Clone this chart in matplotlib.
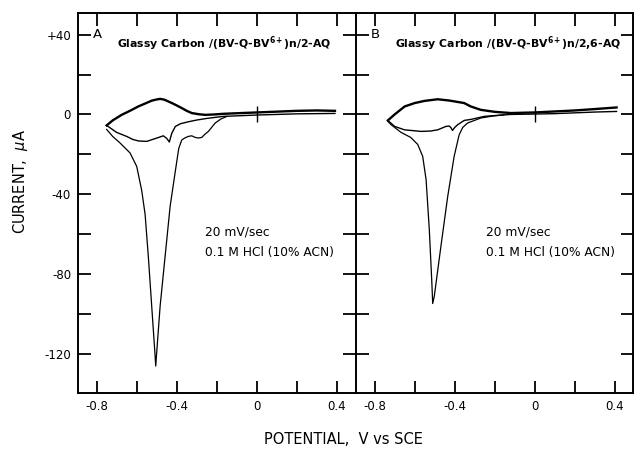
import numpy as np
import matplotlib.pyplot as plt

plt.rcParams['font.family'] = ['DejaVu Sans']
plt.rcParams['mathtext.fontset'] = 'dejavusans'

# --- panel A: Glassy Carbon/(BV-Q-BV6+)n/2-AQ ---
# steady cycle, anodic branch (left vertex -> right vertex)
a_up_v = [-0.75, -0.72, -0.675, -0.63, -0.592, -0.55, -0.525, -0.50, -0.483, -0.462, -0.442,
          -0.42, -0.40, -0.375, -0.35, -0.325, -0.29, -0.258, -0.21, -0.17, -0.1, 0.0, 0.1, 0.2, 0.3, 0.39]
a_up_i = [-5.5, -3.0, -0.2, 2.0, 4.0, 5.8, 6.9, 7.5, 7.8, 7.4, 6.5,
          5.5, 4.5, 3.2, 1.8, 0.7, 0.1, -0.2, 0.0, 0.3, 0.6, 1.0, 1.4, 1.8, 2.0, 1.8]
# steady cycle, cathodic return (right vertex -> left vertex)
a_dn_v = [0.39, 0.3, 0.2, 0.1, 0.0, -0.1, -0.17, -0.25, -0.30, -0.343, -0.38, -0.407, -0.425,
          -0.437, -0.45, -0.467, -0.49, -0.52, -0.55, -0.59, -0.62, -0.65, -0.70, -0.75]
a_dn_i = [0.5, 0.4, 0.3, 0.0, -0.3, -0.7, -1.0, -2.0, -2.8, -3.7, -4.6, -6.0, -9.5,
          -13.8, -12.0, -10.7, -11.5, -12.5, -13.5, -13.3, -12.5, -11.0, -9.0, -5.5]
# first scan with the big cathodic peak
a_first_v = [-0.15, -0.18, -0.208, -0.242, -0.258, -0.275, -0.292, -0.308, -0.325, -0.342, -0.36,
             -0.375, -0.39, -0.408, -0.433, -0.458, -0.483, -0.505, -0.51, -0.525, -0.542, -0.558,
             -0.575, -0.60, -0.633, -0.683, -0.72, -0.75]
a_first_i = [-1.0, -2.3, -4.3, -8.5, -9.8, -11.5, -11.8, -11.5, -10.7, -11.0, -11.8,
             -12.8, -17.0, -29.0, -46.0, -71.0, -96.0, -126.0, -118.0, -96.0, -71.0, -50.0,
             -38.0, -26.0, -19.3, -14.3, -11.0, -7.5]

# --- panel B: Glassy Carbon/(BV-Q-BV6+)n/2,6-AQ ---
b_up_v = [-0.734, -0.70, -0.65, -0.60, -0.55, -0.485, -0.43, -0.40, -0.353, -0.32, -0.27,
          -0.2, -0.12, 0.0, 0.1, 0.2, 0.3, 0.408]
b_up_i = [-3.0, 0.0, 4.0, 5.7, 6.8, 7.6, 7.0, 6.5, 5.7, 4.0, 2.3,
          1.3, 0.7, 1.0, 1.5, 2.0, 2.7, 3.5]
b_dn_v = [0.408, 0.3, 0.2, 0.1, 0.0, -0.12, -0.22, -0.254, -0.32, -0.353, -0.386, -0.40,
          -0.411, -0.42, -0.428, -0.444, -0.485, -0.52, -0.568, -0.651, -0.70, -0.734]
b_dn_i = [1.5, 1.2, 0.8, 0.4, 0.2, 0.0, -0.7, -1.0, -2.5, -3.0, -5.2, -6.5,
          -8.0, -6.5, -5.8, -6.0, -7.7, -8.3, -8.5, -7.7, -6.0, -3.0]
b_first_v = [-0.154, -0.21, -0.27, -0.336, -0.36, -0.378, -0.403, -0.435, -0.469, -0.502, -0.51,
             -0.515, -0.527, -0.543, -0.56, -0.585, -0.62, -0.668, -0.717, -0.734]
b_first_i = [-0.2, -0.8, -1.8, -4.3, -6.5, -10.2, -21.0, -41.0, -66.0, -91.0, -94.7,
             -82.7, -57.7, -32.7, -21.0, -15.0, -11.5, -9.0, -5.2, -3.5]

panels = [
    ('A', 'Glassy Carbon /(BV-Q-BV$^{\\mathbf{6+}}$)n/2-AQ',
     a_up_v, a_up_i, a_dn_v, a_dn_i, a_first_v, a_first_i),
    ('B', 'Glassy Carbon /(BV-Q-BV$^{\\mathbf{6+}}$)n/2,6-AQ',
     b_up_v, b_up_i, b_dn_v, b_dn_i, b_first_v, b_first_i),
]

x_ticks = [-0.8, -0.6, -0.4, -0.2, 0.0, 0.2, 0.4]
x_labels = ['-0.8', '', '-0.4', '', '0', '', '0.4']
y_ticks = [40, 20, 0, -20, -40, -60, -80, -100, -120]
y_labels = ['+40', '', '0', '', '-40', '', '-80', '', '-120']

fig = plt.figure(figsize=(6.35, 4.51), dpi=100)
lefts = [78 / 635, 356 / 635]
w = 277 / 635
bottom = 1 - 393 / 451
h = 380 / 451

for k, (letter, title, uv, ui, dv, di, fv, fi) in enumerate(panels):
    ax = fig.add_axes([lefts[k], bottom, w, h])
    ax.plot(uv, ui, color='black', lw=1.7)
    ax.plot(dv, di, color='black', lw=1.0)
    ax.plot(fv, fi, color='black', lw=0.9)
    ax.plot([0], [0], marker='|', ms=11, mew=1.0, color='black')

    ax.set_xlim(-0.893, 0.49)
    ax.set_ylim(-139.5, 50.8)
    ax.set_xticks(x_ticks)
    ax.set_xticklabels(x_labels)
    ax.set_yticks(y_ticks)
    if k == 0:
        ax.set_yticklabels(y_labels)
    else:
        ax.set_yticklabels([])
    ax.tick_params(direction='in', length=9, width=1.3, top=True, right=True,
                   labelsize=8.5, pad=5)
    for s in ax.spines.values():
        s.set_linewidth(1.4)
    if k == 0:
        ax.spines['right'].set_visible(False)

    ax.text(0.055, 0.943, letter, transform=ax.transAxes, fontsize=9.5,
            ha='left', va='center')
    ax.text(0.141, 0.918, title, transform=ax.transAxes, fontsize=7.8,
            fontweight='bold', ha='left', va='center')
    tx = 0.458 if k == 0 else 0.469
    ax.text(tx, 0.424, '20 mV/sec', transform=ax.transAxes, fontsize=8.8,
            ha='left', va='center')
    ax.text(tx, 0.371, '0.1 M HCl (10% ACN)', transform=ax.transAxes, fontsize=8.8,
            ha='left', va='center')

fig.text(343 / 635, 1 - 440 / 451, 'POTENTIAL,  V vs SCE', fontsize=10.5,
         ha='center', va='center')
fig.text(21 / 635, 1 - 181 / 451, 'CURRENT,  $\\mu$A', fontsize=10.5,
         rotation=90, ha='center', va='center')

plt.savefig('out.png', dpi=100)
